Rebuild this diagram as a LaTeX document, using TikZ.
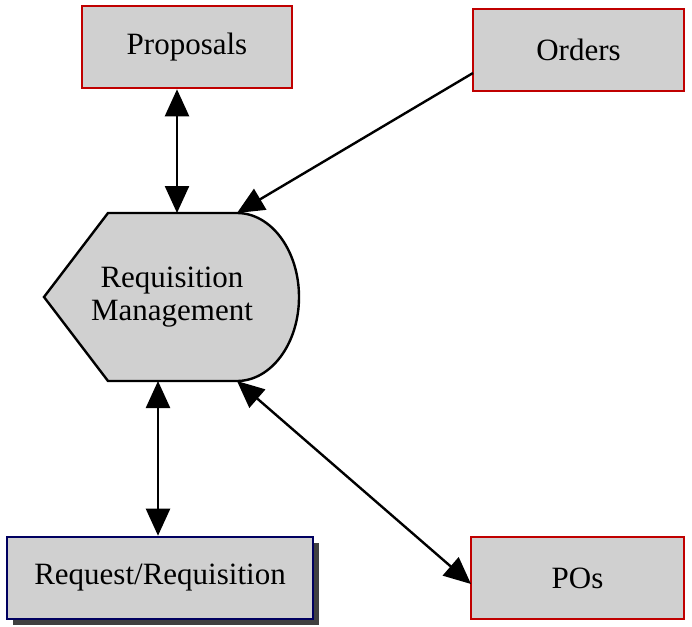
\documentclass[tikz,border=0pt]{standalone}
\usepackage{fontspec}
\setmainfont{Liberation Serif}
\usetikzlibrary{arrows.meta,shadows}
\definecolor{boxgray}{HTML}{D0D0D0}
\definecolor{boxred}{HTML}{C00000}
\definecolor{boxnavy}{HTML}{000060}
\definecolor{shadowgray}{HTML}{404040}
\tikzset{
  databox/.style={draw=boxred, line width=2.6pt, fill=boxgray, minimum height=82pt,
    inner sep=0pt, font=\fontsize{31}{33}\selectfont},
  sourcebox/.style={databox, draw=boxnavy,
    drop shadow={shadow xshift=6pt, shadow yshift=-6pt, fill=shadowgray, opacity=1}},
  flow/.style={line width=2.4pt, -{Triangle[length=27pt,width=24pt]}},
  biflow/.style={line width=2.4pt, {Triangle[length=27pt,width=24pt]}-{Triangle[length=27pt,width=24pt]}}
}
\begin{document}
\begin{tikzpicture}[x=1pt, y=-1pt]
\useasboundingbox (0,0) rectangle (692,626);

% process shape: pointed left side, rounded right side
\coordinate (rm-tl) at (108,213);
\coordinate (rm-tr) at (237,213);
\coordinate (rm-br) at (237,381);
\coordinate (rm-bl) at (108,381);
\coordinate (rm-top) at (177,213);
\coordinate (rm-bot) at (158,381);
\draw[line width=2.4pt, fill=boxgray, line join=miter]
  (44,297) -- (rm-tl) -- (rm-tr)
  arc[start angle=90, end angle=-90, x radius=62, y radius=-84]
  -- (rm-bl) -- cycle;
\node[align=center, font=\fontsize{31}{33}\selectfont] (rm) at (172,297) {Requisition\\Management};

\node[databox, minimum width=210pt] (proposals) at (187,47) {Proposals};
\node[databox, minimum width=211pt] (orders) at (578.5,50) {Orders};
\node[sourcebox, minimum width=306pt] (request) at (160,578) {Request/Requisition};
\node[databox, minimum width=213pt] (pos) at (577.5,578) {POs};

\coordinate (orders-out) at (473,73);
\coordinate (pos-in) at (471,584);

\draw[biflow] (proposals.south -| rm-top) -- (rm-top);
\draw[flow] (orders-out) -- (rm-tr);
\draw[biflow] (rm-bot) -- (request.north -| rm-bot);
\draw[biflow] (rm-br) -- (pos-in);
\end{tikzpicture}
\end{document}
